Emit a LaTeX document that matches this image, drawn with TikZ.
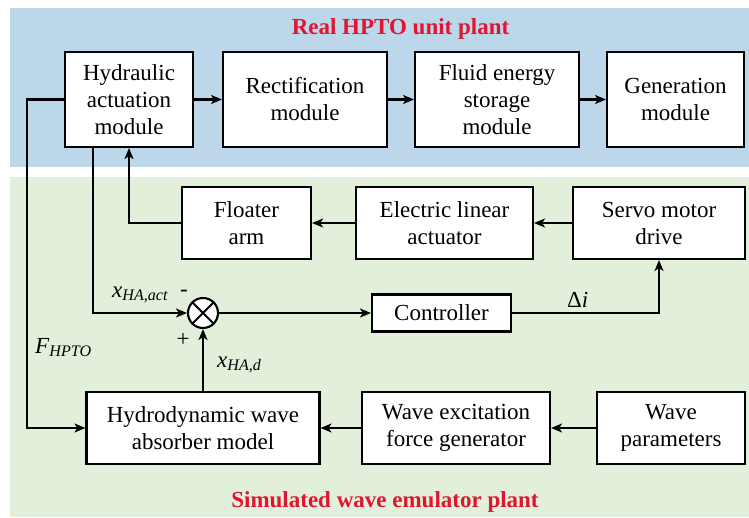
\documentclass[tikz,border=0pt]{standalone}
\usepackage{fontspec}
\setmainfont{Liberation Serif}
\usetikzlibrary{arrows.meta}
\definecolor{bgblue}{RGB}{189,215,234}
\definecolor{bggreen}{RGB}{226,239,218}
\definecolor{titlered}{RGB}{222,22,48}
\begin{document}
\begin{tikzpicture}[x=1pt,y=-1pt,
  blk/.style={draw, line width=2.1pt, fill=white, align=center, inner sep=0pt,
    font=\fontsize{23}{27}\selectfont},
  conn/.style={line width=2.1pt},
  arr/.style={conn, -{Stealth[length=11pt,width=9pt,inset=3pt]}},
  lbl/.style={inner sep=0pt, font=\fontsize{23}{27}\selectfont},
  ttl/.style={inner sep=0pt, text=titlered, font=\fontsize{23}{27}\selectfont\bfseries}]
\useasboundingbox (0,0) rectangle (749,517);
\fill[bgblue] (10,8) rectangle (749,167);
\fill[bggreen] (10,177) rectangle (749,517);

% titles
\node[ttl] (t1) at (400.5,29) {Real HPTO unit plant};
\node[ttl] (t2) at (385,502) {Simulated wave emulator plant};

% top row
\node[blk, minimum width=128pt, minimum height=95pt] (hyd) at (129,99.5) {Hydraulic\\actuation\\module};
\node[blk, minimum width=164pt, minimum height=95pt] (rect) at (305,99.5) {Rectification\\module};
\node[blk, minimum width=164pt, minimum height=95pt] (fluid) at (497,99.5) {Fluid energy\\storage\\module};
\node[blk, minimum width=137pt, minimum height=95pt] (gen) at (675.5,99.5) {Generation\\module};

% middle row
\node[blk, minimum width=129pt, minimum height=72pt] (flo) at (246.5,223) {Floater\\arm};
\node[blk, minimum width=177pt, minimum height=72pt] (ela) at (444.5,223) {Electric linear\\actuator};
\node[blk, minimum width=172pt, minimum height=72pt] (servo) at (659,223) {Servo motor\\drive};

% controller row
\node[draw, circle, line width=2.1pt, fill=white, minimum size=30pt, inner sep=0pt] (sum) at (203,313) {};
\draw[conn] (sum.north west) -- (sum.south east);
\draw[conn] (sum.north east) -- (sum.south west);
\node[blk, minimum width=139pt, minimum height=37pt] (ctrl) at (441.5,313) {Controller};

% bottom row
\node[blk, minimum width=233pt, minimum height=72pt] (hydro) at (203,428) {Hydrodynamic wave\\absorber model};
\node[blk, minimum width=188pt, minimum height=72pt] (wexc) at (456,428) {Wave excitation\\force generator};
\node[blk, minimum width=148pt, minimum height=72pt] (wpar) at (671,428) {Wave\\parameters};

% helper coordinates
\coordinate (fx) at (27,0);
\coordinate (ax) at (93,0);

% connectors
\draw[arr] (hyd.east) -- (rect.west);
\draw[arr] (rect.east) -- (fluid.west);
\draw[arr] (fluid.east) -- (gen.west);
\draw[arr] (hyd.west) -- (hyd.west -| fx) |- (hydro.west);
\draw[arr] (hyd.south -| ax) |- (sum.west);
\draw[arr] (flo.west) -| (hyd.south);
\draw[arr] (servo.west) -- (ela.east);
\draw[arr] (ela.west) -- (flo.east);
\draw[arr] (sum.east) -- (ctrl.west);
\draw[arr] (ctrl.east) -| (servo.south);
\draw[arr] (hydro.north -| sum) -- (sum.south);
\draw[arr] (wexc.west) -- (hydro.east);
\draw[arr] (wpar.west) -- (wexc.east);

% labels
\node[lbl, anchor=base west] (lact) at (112,297) {\textit{x}\textsubscript{\textit{HA,act}}};
\node[lbl] (lminus) at (184,293) {-};
\node[lbl] (lplus) at (183,340) {+};
\node[lbl, anchor=base west] (lf) at (35,353) {\textit{F}\textsubscript{\textit{HPTO}}};
\node[lbl, anchor=base west] (ld) at (217,367) {\textit{x}\textsubscript{\textit{HA,d}}};
\node[lbl, anchor=base west] (ldi) at (567,307) {Δ\textit{i}};
\end{tikzpicture}
\end{document}
